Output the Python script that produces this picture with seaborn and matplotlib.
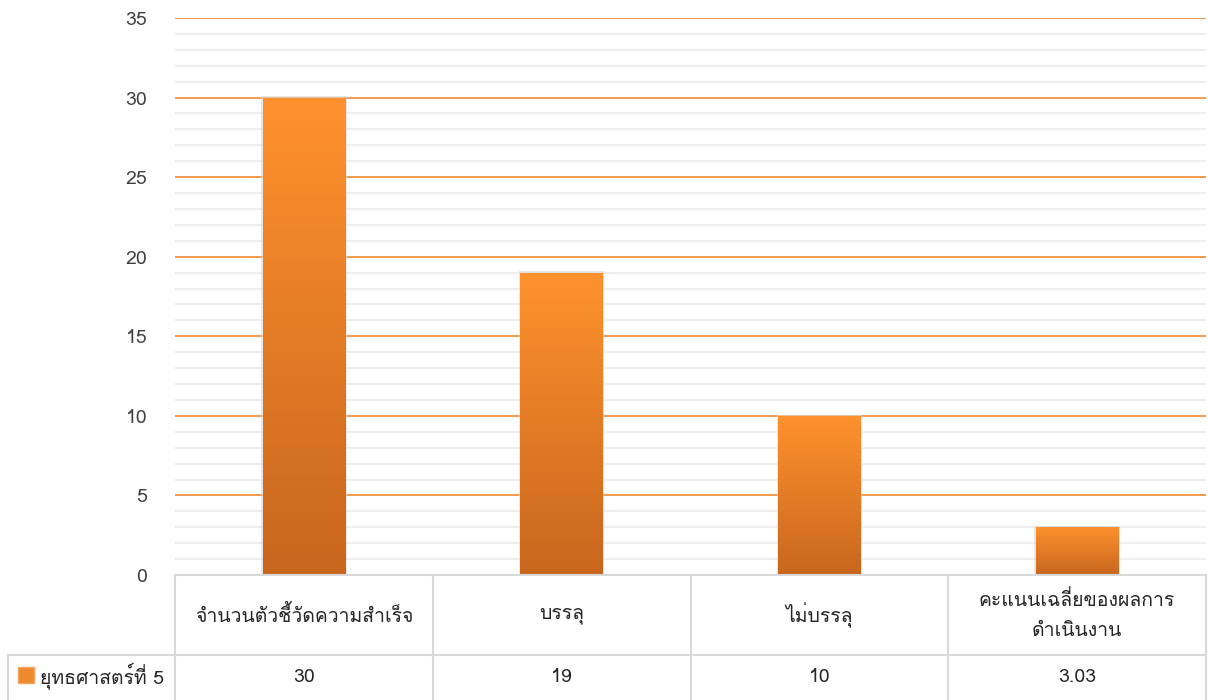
import matplotlib
matplotlib.use('Agg')
import matplotlib.pyplot as plt
from matplotlib import font_manager
import numpy as np
import pandas as pd
import seaborn as sns

categories = ['จำนวนตัวชี้วัดความสำเร็จ', 'บรรลุ', 'ไม่บรรลุ', 'คะแนนเฉลี่ยของผลการ\nดำเนินงาน']
values = [30, 19, 10, 3.03]
value_labels = ['30', '19', '10', '3.03']
series_name = 'ยุทธศาสตร์ที่ 5'


def thai_families():
    # look for installed fonts that have Thai glyphs
    found = []
    try:
        from fontTools.ttLib import TTFont
    except ImportError:
        return found
    for f in font_manager.fontManager.ttflist:
        if f.name in found:
            continue
        try:
            tt = TTFont(f.fname, fontNumber=0, lazy=True)
            cmap = tt.getBestCmap()
            if cmap and 0x0E08 in cmap:
                found.append(f.name)
        except Exception:
            pass
    return found


sns.set_theme(style='white')
thai = thai_families()
plt.rcParams['font.family'] = thai + ['DejaVu Sans']

df = pd.DataFrame({'cat': categories, 'val': values})

fig = plt.figure(figsize=(12.08, 7), dpi=100)
ax = fig.add_axes([175 / 1208, 125 / 700, 1031 / 1208, 557 / 700])

sns.barplot(data=df, x='cat', y='val', color='#F79230', width=0.32, ax=ax, saturation=1)

# gradient fill on each bar, with a soft shadow
grad = np.linspace(0, 1, 256).reshape(-1, 1)
cmap = matplotlib.colors.LinearSegmentedColormap.from_list('g', ['#C8661E', '#FF922E'])
for p in ax.patches:
    x0, y0 = p.get_x(), p.get_y()
    w, h = p.get_width(), p.get_height()
    ax.add_patch(matplotlib.patches.Rectangle((x0 - 0.006, y0), w + 0.012, h + 0.08,
                                              facecolor='#D8D8D8', edgecolor='none',
                                              alpha=0.6, zorder=2))
    im = ax.imshow(grad, extent=[x0, x0 + w, y0, y0 + h], origin='lower', cmap=cmap,
                   aspect='auto', zorder=3)
    im.set_clip_path(p)
    p.set_edgecolor('none')

ax.set_xlim(-0.5, 3.5)
ax.set_ylim(0, 35)
ax.set_aspect('auto')
ax.set_yticks(np.arange(0, 36, 5))
ax.set_yticks(np.arange(0, 36, 1), minor=True)
ax.yaxis.grid(True, which='minor', color='#EEEEEE', linewidth=1.6, zorder=0)
ax.yaxis.grid(True, which='major', color='#F39A4F', linewidth=1.4, zorder=1)
ax.set_axisbelow(True)
ax.tick_params(axis='y', labelsize=14, pad=20, length=0, colors='#404040')
ax.set_xticks([])
ax.set_xlabel('')
ax.set_ylabel('')
for s in ax.spines.values():
    s.set_visible(False)

# data table under the chart
line_kw = dict(color='#D9D9D9', linewidth=1.5, clip_on=False, zorder=5)
tr = ax.get_xaxis_transform()
r1 = -80 / 557
r2 = -125 / 557
ax.plot([-0.5, 3.5], [0, 0], transform=tr, **line_kw)
ax.plot([-0.5 - 167 / 258, 3.5], [r1, r1], transform=tr, **line_kw)
for b in [-0.5, 0.5, 1.5, 2.5, 3.5]:
    ax.plot([b, b], [0, r2], transform=tr, **line_kw)
ax.plot([-0.5 - 167 / 258] * 2, [r1, r2], transform=tr, **line_kw)

for i, (c, v) in enumerate(zip(categories, value_labels)):
    ax.text(i, r1 / 2, c, transform=tr, ha='center', va='center', fontsize=14,
            color='#262626', linespacing=1.9)
    ax.text(i, (r1 + r2) / 2, v, transform=tr, ha='center', va='center', fontsize=14,
            color='#262626')

fig.patches.append(matplotlib.patches.Rectangle((18 / 1208, 17 / 700), 16 / 1208, 16 / 700,
                                                transform=fig.transFigure, facecolor='#EE8A2E',
                                                edgecolor='#F9A560', linewidth=1))
fig.text(40 / 1208, 24 / 700, series_name, ha='left', va='center', fontsize=14, color='#262626')

fig.savefig('out.png', dpi=100, facecolor='white')
